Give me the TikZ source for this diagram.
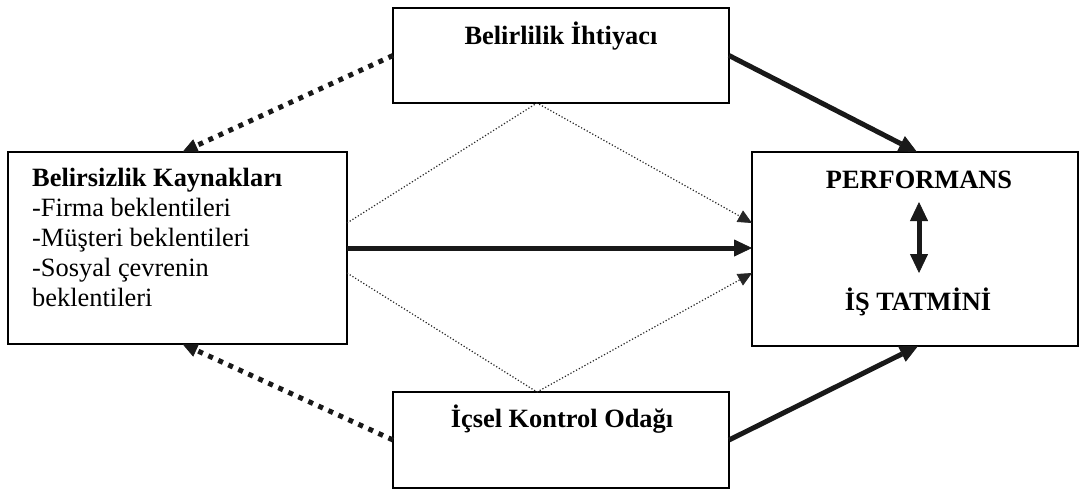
\documentclass[tikz,border=0pt]{standalone}
\usepackage{fontspec}
\setmainfont{Liberation Serif}
\usetikzlibrary{arrows.meta}
\begin{document}
\begin{tikzpicture}[x=1pt,y=-1pt,
  box/.style={draw=black, line width=1.5pt, rectangle, inner sep=0pt, outer sep=0pt},
  lbl/.style={inner sep=0pt, anchor=base, font=\fontsize{26.4}{30}\selectfont},
  lblw/.style={lbl, anchor=base west},
  solidarrow/.style={draw=black!90, line width=5pt,
    -{Triangle[length=18pt,width=17pt,line width=0.8pt]}},
  squaredots/.style={draw=black!90, line width=5pt, dash pattern=on 5pt off 6pt,
    -{Triangle[length=15pt,width=14pt,line width=0.8pt]}},
  finedots/.style={draw=black!85, line width=1.2pt, dash pattern=on 1.2pt off 2pt,
    -{Triangle[length=14pt,width=13pt,line width=0.8pt]}},
  dblarrow/.style={draw=black!90, line width=5pt,
    {Triangle[length=19pt,width=18pt,line width=0.8pt]}-{Triangle[length=19pt,width=18pt,line width=0.8pt]}}
]
\useasboundingbox (0,0) rectangle (1081,490);

% boxes
\node[box, minimum width=336pt, minimum height=95pt] (top) at (561,55.5) {};
\node[box, minimum width=336pt, minimum height=96pt] (bot) at (561,440) {};
\node[box, minimum width=339pt, minimum height=192pt] (src) at (177.5,248) {};
\node[box, minimum width=326pt, minimum height=194pt] (perf) at (915,249) {};

% box texts
\node[lbl] (toptext) at (561,44) {\bfseries Belirlilik İhtiyacı};
\node[lbl] (bottext) at (562,427) {\bfseries İçsel Kontrol Odağı};
\node[lblw] (src1) at (32,186) {\bfseries Belirsizlik Kaynakları};
\node[lblw] (src2) at (32,216) {-Firma beklentileri};
\node[lblw] (src3) at (32,246) {-Müşteri beklentileri};
\node[lblw] (src4) at (32,276) {-Sosyal çevrenin};
\node[lblw] (src5) at (32,306) {beklentileri};
\node[lbl] (pftext) at (919,188) {\bfseries PERFORMANS};
\node[lbl] (istext) at (918,310) {\bfseries İŞ TATMİNİ};

% two-way link between performance and satisfaction
\coordinate (pa) at (919,202);
\coordinate (pb) at (919,273);
\draw[dblarrow] (pa) -- (pb);

% moderating paths through the upper and lower boxes
\draw[finedots] ([yshift=25pt]src.east) -- ([xshift=-24pt]top.south) -- ([yshift=26pt]perf.west);
\draw[finedots] ([yshift=-25pt]src.east) -- ([xshift=-24pt]bot.north) -- ([yshift=-24pt]perf.west);

% direct effect
\draw[solidarrow] (src.east) -- (src.east -| perf.west);

% corner arrows
\draw[squaredots] (top.west) -- ([xshift=5pt]src.north);
\draw[squaredots] (bot.west) -- ([xshift=5pt]src.south);
\draw[solidarrow] (top.east) -- ([xshift=2pt]perf.north);
\draw[solidarrow] (bot.east) -- ([xshift=3pt]perf.south);
\end{tikzpicture}
\end{document}
